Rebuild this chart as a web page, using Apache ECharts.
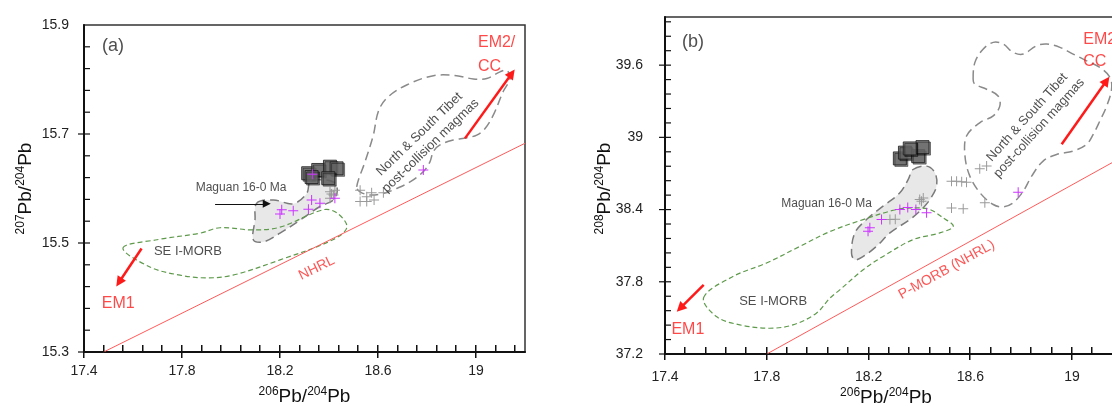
<!DOCTYPE html>
<html>
<head>
<meta charset="utf-8">
<script src="https://cdn.jsdelivr.net/npm/echarts@6/dist/echarts.min.js"></script>
<style>
  html, body { margin: 0; padding: 0; background: #fff; }
  #chart { width: 1112px; height: 406px; }
</style>
</head>
<body>
<div id="chart"></div>
<script>
// ---------- axes ----------
const xRange = [17.4, 19.2];
const xTickLabels = [17.4, 17.8, 18.2, 18.6, 19];
const xMajorStep = 0.4, xMinorStep = 0.08;
const yRangeA = [15.3, 15.9];
const yTickLabelsA = [15.3, 15.5, 15.7, 15.9];
const yMajorStepA = 0.2, yMinorStepA = 0.04;
const yRangeB = [37.2, 40.0];
const yTickLabelsB = [37.2, 37.8, 38.4, 39, 39.6];
const yMajorStepB = 0.6, yMinorStepB = 0.12;

// ---------- panel (a): 207Pb/204Pb ----------
const nhrlA = [[17.48, 15.3], [19.2, 15.683]];
const seMorbA = [[17.559,15.491],[17.698,15.506],[17.873,15.518],[17.955,15.528],[18.090,15.524],[18.200,15.529],[18.376,15.561],[18.433,15.555],[18.473,15.529],[18.416,15.506],[18.200,15.469],[18.008,15.441],[17.902,15.436],[17.792,15.441],[17.669,15.456]];
const maguanA = [[18.105,15.573],[18.173,15.579],[18.254,15.572],[18.309,15.591],[18.322,15.612],[18.350,15.616],[18.418,15.612],[18.434,15.597],[18.418,15.579],[18.363,15.567],[18.282,15.542],[18.200,15.518],[18.132,15.502],[18.091,15.506],[18.098,15.542]];
const tibetA = [[18.513,15.603],[18.547,15.649],[18.581,15.698],[18.601,15.741],[18.636,15.766],[18.717,15.790],[18.826,15.807],[18.921,15.807],[18.989,15.801],[19.044,15.802],[19.098,15.814],[19.125,15.817],[19.139,15.802],[19.111,15.778],[19.071,15.735],[19.037,15.710],[19.003,15.698],[18.962,15.693],[18.907,15.689],[18.853,15.680],[18.826,15.668],[18.812,15.649],[18.785,15.631],[18.731,15.612],[18.676,15.600],[18.622,15.591],[18.567,15.588],[18.527,15.594]];
const squaresA = [[18.315,15.628],[18.356,15.634],[18.404,15.640],[18.431,15.637],[18.397,15.619],[18.329,15.621]];
const magentaA = [[18.207,15.561],[18.200,15.553],[18.254,15.559],[18.316,15.562],[18.329,15.579],[18.363,15.573],[18.424,15.582],[18.332,15.626],[18.785,15.634]];
const grayA = [[18.527,15.597],[18.554,15.585],[18.574,15.592],[18.527,15.576],[18.554,15.576],[18.584,15.579],[18.622,15.592],[18.404,15.594],[18.418,15.588],[18.404,15.582],[18.424,15.597],[18.410,15.590]];
const em1ArrowA = [[17.635,15.490],[17.543,15.428]];
const em2ArrowA = [[18.955,15.692],[19.146,15.811]];
const maguanArrowA = [[17.935,15.572],[18.146,15.572]];

// ---------- panel (b): 208Pb/204Pb ----------
const nhrlB = [[17.8, 37.2], [19.2, 38.84]];
const seMorbB = [[17.552,37.669],[17.667,37.844],[17.799,37.956],[17.930,38.094],[18.048,38.217],[18.179,38.317],[18.310,38.400],[18.389,38.414],[18.441,38.400],[18.493,38.331],[18.533,38.261],[18.480,38.206],[18.375,38.150],[18.257,38.011],[18.179,37.900],[18.087,37.733],[18.048,37.664],[17.995,37.539],[17.903,37.442],[17.812,37.414],[17.694,37.442],[17.602,37.511]];
const maguanB = [[18.375,38.733],[18.428,38.761],[18.461,38.706],[18.467,38.594],[18.441,38.483],[18.408,38.400],[18.362,38.317],[18.284,38.206],[18.231,38.094],[18.179,38.011],[18.146,37.983],[18.133,38.039],[18.146,38.206],[18.192,38.317],[18.257,38.428],[18.323,38.539],[18.356,38.650]];
const tibetB = [[18.611,39.483],[18.618,39.623],[18.650,39.733],[18.690,39.789],[18.729,39.775],[18.768,39.706],[18.808,39.692],[18.860,39.761],[18.900,39.775],[18.952,39.748],[19.004,39.692],[19.057,39.636],[19.109,39.581],[19.149,39.498],[19.155,39.400],[19.136,39.261],[19.109,39.136],[19.083,39.025],[19.057,38.942],[19.004,38.886],[18.939,38.858],[18.886,38.803],[18.841,38.678],[18.808,38.553],[18.768,38.456],[18.729,38.423],[18.690,38.442],[18.638,38.539],[18.598,38.678],[18.579,38.844],[18.585,39.011],[18.638,39.123],[18.690,39.178],[18.716,39.261],[18.709,39.344],[18.664,39.400],[18.618,39.442]];
const squaresB = [[18.323,38.825],[18.343,38.873],[18.395,38.844],[18.412,38.919],[18.362,38.908]];
const magentaB = [[18.205,38.248],[18.198,38.219],[18.251,38.317],[18.323,38.400],[18.354,38.417],[18.386,38.400],[18.428,38.373],[18.788,38.544]];
const grayB = [[18.284,38.317],[18.305,38.320],[18.401,38.483],[18.415,38.497],[18.408,38.469],[18.526,38.636],[18.546,38.636],[18.566,38.631],[18.585,38.628],[18.526,38.414],[18.572,38.406],[18.657,38.456],[18.637,38.739],[18.664,38.761]];
const em1ArrowB = [[17.552,37.775],[17.460,37.581]];
const em2ArrowB = [[18.959,38.942],[19.135,39.470]];

// ---------- annotations ----------
const textA = [
  { name: '(a)', value: [17.518, 15.861], size: 18, color: '#222' },
  { name: 'Maguan 16-0 Ma', value: [18.041, 15.601], size: 12, color: '#222' },
  { name: 'SE I-MORB', value: [17.824, 15.484], size: 13, color: '#222' },
  { name: 'EM1', value: [17.540, 15.389], size: 16, color: '#ff1a1a' },
  { name: 'EM2/\nCC', value: [19.008, 15.845], size: 16, color: '#ff1a1a', align: 'left', lh: 24 },
  { name: 'NHRL', value: [18.350, 15.454], size: 14, color: '#ff2a2a', rotate: 26 },
  { name: 'North & South Tibet\npost-collision magmas', value: [18.792, 15.689], size: 13, color: '#222', rotate: 44, lh: 16 }
];
const textB = [
  { name: '(b)', value: [17.510, 39.789], size: 18, color: '#222' },
  { name: 'Maguan 16-0 Ma', value: [18.035, 38.450], size: 12, color: '#222' },
  { name: 'SE I-MORB', value: [17.825, 37.636], size: 13, color: '#222' },
  { name: 'EM1', value: [17.490, 37.400], size: 16, color: '#ff1a1a' },
  { name: 'EM2/\nCC', value: [19.044, 39.725], size: 16, color: '#ff1a1a', align: 'left', lh: 22 },
  { name: 'P-MORB (NHRL)', value: [18.507, 37.900], size: 14, color: '#ff2a2a', rotate: 29 },
  { name: 'North & South Tibet\npost-collision magmas', value: [18.847, 39.122], size: 13, color: '#222', rotate: 48, lh: 16 }
];

const FONT = 'Liberation Sans, Arial, sans-serif';

function steps(lo, hi, step) {
  const out = [];
  const n = Math.floor((hi - lo) / step + 1e-6);
  for (let i = 0; i <= n; i++) out.push(+(lo + i * step).toFixed(4));
  return out;
}

const nameRich = {
  sup: { fontSize: 12, verticalAlign: 'top', lineHeight: 12, fontFamily: FONT, color: '#111' },
  b: { fontSize: 19, lineHeight: 22, fontFamily: FONT, color: '#111' }
};

function mainX(grid, margin, gap, pad) {
  return {
    type: 'value', gridIndex: grid, min: xRange[0], max: xRange[1], position: 'bottom',
    name: '{sup|206}{b|Pb/}{sup|204}{b|Pb}', nameLocation: 'middle', nameGap: gap, nameMoveOverlap: false,
    nameTextStyle: { rich: nameRich, padding: pad || 0 },
    axisLine: { show: true, onZero: false, lineStyle: { color: '#111', width: 2 } },
    axisTick: { show: false },
    axisLabel: { customValues: xTickLabels, margin: margin, fontSize: 14, color: '#222', fontFamily: FONT },
    splitLine: { show: false }
  };
}
function mainY(grid, range, labels, margin, gap, sup, pad) {
  return {
    type: 'value', gridIndex: grid, min: range[0], max: range[1], position: 'left',
    name: '{sup|' + sup + '}{b|Pb/}{sup|204}{b|Pb}', nameLocation: 'middle', nameGap: gap, nameRotate: 90,
    nameMoveOverlap: false,
    nameTextStyle: { rich: nameRich, padding: pad || 0 },
    axisLine: { show: true, onZero: false, lineStyle: { color: '#111', width: 2 } },
    axisTick: { show: false },
    axisLabel: { customValues: labels, margin: margin, fontSize: 14, color: '#222', fontFamily: FONT },
    splitLine: { show: false }
  };
}

// closed outline drawn as a smoothed polygon in data space
function outline(points, xi, yi, stroke, dash, fill, width, z) {
  return {
    type: 'custom', xAxisIndex: xi, yAxisIndex: yi, silent: true, z: z,
    data: [0],
    renderItem: function (params, api) {
      const pts = points.map(function (p) { return api.coord(p); });
      return {
        type: 'polygon',
        shape: { points: pts, smooth: 0.35 },
        style: { fill: fill, stroke: stroke, lineWidth: width, lineDash: dash }
      };
    }
  };
}

const CROSS = 'path://M4.5,0H5.5V4.5H10V5.5H5.5V10H4.5V5.5H0V4.5H4.5Z';

function crosses(data, xi, yi, color, z) {
  return {
    type: 'scatter', xAxisIndex: xi, yAxisIndex: yi, data: data, symbol: CROSS, symbolSize: 10,
    itemStyle: { color: color, opacity: 1 }, z: z, silent: true
  };
}
function squares(data, xi, yi) {
  return {
    type: 'scatter', xAxisIndex: xi, yAxisIndex: yi, data: data, symbol: 'rect', symbolSize: 13,
    itemStyle: { color: '#6c6c6c', borderColor: '#1c1c1c', borderWidth: 1, shadowColor: 'rgba(0,0,0,0.55)', shadowOffsetX: 1.5, shadowOffsetY: 1.5 },
    z: 6, silent: true
  };
}
function refLine(data, xi, yi) {
  return {
    type: 'line', xAxisIndex: xi, yAxisIndex: yi, data: data, symbol: 'none', clip: true,
    lineStyle: { color: '#ff5a5a', width: 1 }, z: 3, silent: true
  };
}
function arrow(coords, xi, yi, color, width, head) {
  return {
    type: 'lines', coordinateSystem: 'cartesian2d', xAxisIndex: xi, yAxisIndex: yi,
    data: [{ coords: coords }], symbol: ['none', 'triangle'], symbolSize: [0, head],
    lineStyle: { color: color, width: width, opacity: 1 }, z: 8, silent: true
  };
}
function texts(items, xi, yi) {
  return {
    type: 'scatter', xAxisIndex: xi, yAxisIndex: yi, symbolSize: 0, z: 10, silent: true,
    data: items.map(function (t) {
      return {
        name: t.name, value: t.value,
        label: {
          show: true, position: 'inside', formatter: '{b}',
          fontSize: t.size, color: t.color, fontFamily: FONT,
          rotate: t.rotate || 0, align: t.align || 'center',
          lineHeight: t.lh || Math.round(t.size * 1.2)
        }
      };
    })
  };
}

const chart = echarts.init(document.getElementById('chart'), null, { renderer: 'canvas' });
chart.setOption({
  animation: false,
  backgroundColor: '#ffffff',
  grid: [
    { left: 84, top: 25, width: 441, height: 327, containLabel: false, outerBoundsMode: 'none',
      show: true, borderColor: '#333', borderWidth: 1.5, backgroundColor: 'transparent' },
    { left: 665, top: 17, width: 458, height: 337, containLabel: false, outerBoundsMode: 'none',
      show: true, borderColor: '#333', borderWidth: 1.5, backgroundColor: 'transparent' }
  ],
  xAxis: [
    mainX(0, 12, 34),
    mainX(1, 16, 33, [0, 16, 0, 0])
  ],
  yAxis: [
    mainY(0, yRangeA, yTickLabelsA, 15, 47, '207'),
    mainY(1, yRangeB, yTickLabelsB, 22, 49, '208', [0, 6, 0, 0])
  ],
  series: [
    // panel (a)
    outline(seMorbA, 0, 0, '#5f9a4c', [5, 3], 'none', 1.2, 2),
    outline(maguanA, 0, 0, '#7a7a7a', [9, 5], '#e8e8e8', 1.5, 1),
    outline(tibetA, 0, 0, '#8a8a8a', [9, 5], 'none', 1.5, 2),
    refLine(nhrlA, 0, 0),
    crosses(grayA, 0, 0, '#9a9a9a', 4),
    squares(squaresA, 0, 0),
    crosses(magentaA, 0, 0, '#cc33ff', 7),
    arrow(em1ArrowA, 0, 0, '#ff1a1a', 2.5, 10),
    arrow(em2ArrowA, 0, 0, '#ff1a1a', 2.5, 10),
    arrow(maguanArrowA, 0, 0, '#111', 1.2, 8),
    texts(textA, 0, 0),
    // panel (b)
    outline(seMorbB, 1, 1, '#5f9a4c', [5, 3], 'none', 1.2, 2),
    outline(maguanB, 1, 1, '#7a7a7a', [9, 5], '#e8e8e8', 1.5, 1),
    outline(tibetB, 1, 1, '#8a8a8a', [9, 5], 'none', 1.5, 2),
    refLine(nhrlB, 1, 1),
    crosses(grayB, 1, 1, '#9a9a9a', 4),
    squares(squaresB, 1, 1),
    crosses(magentaB, 1, 1, '#cc33ff', 7),
    arrow(em1ArrowB, 1, 1, '#ff1a1a', 2.5, 10),
    arrow(em2ArrowB, 1, 1, '#ff1a1a', 2.5, 10),
    texts(textB, 1, 1)
  ]
});

// tick marks along the bottom and left axes, placed with the axes' own scales:
// minor ticks point inward, major ticks cross the axis line
function isMajor(v, lo, step) {
  const k = (v - lo) / step;
  return Math.abs(k - Math.round(k)) < 1e-6;
}
function tickGraphics(axisIndex, yRange, yMajor, yMinor) {
  const out = [];
  const L = 7;
  const yBottom = chart.convertToPixel({ yAxisIndex: axisIndex }, yRange[0]);
  const xLeft = chart.convertToPixel({ xAxisIndex: axisIndex }, xRange[0]);
  steps(xRange[0], xRange[1] - 1e-9, xMinorStep).forEach(function (v) {
    const px = Math.round(chart.convertToPixel({ xAxisIndex: axisIndex }, v));
    const o = isMajor(v, xRange[0], xMajorStep) ? 6 : 0;
    out.push({ type: 'rect', silent: true, z: 100,
      shape: { x: px - 1, y: Math.round(yBottom) - L, width: 1.5, height: L + o },
      style: { fill: '#111' } });
  });
  steps(yRange[0], yRange[1] - 1e-6, yMinor).forEach(function (v) {
    const py = chart.convertToPixel({ yAxisIndex: axisIndex }, v);
    const o = isMajor(v, yRange[0], yMajor) ? 6 : 0;
    out.push({ type: 'line', silent: true, z: 100,
      shape: { x1: xLeft - o, y1: py, x2: xLeft + 6, y2: py },
      style: { stroke: '#111', lineWidth: 1.2 } });
  });
  return out;
}
chart.setOption({
  graphic: tickGraphics(0, yRangeA, yMajorStepA, yMinorStepA)
    .concat(tickGraphics(1, yRangeB, yMajorStepB, yMinorStepB))
});
</script>
</body>
</html>
